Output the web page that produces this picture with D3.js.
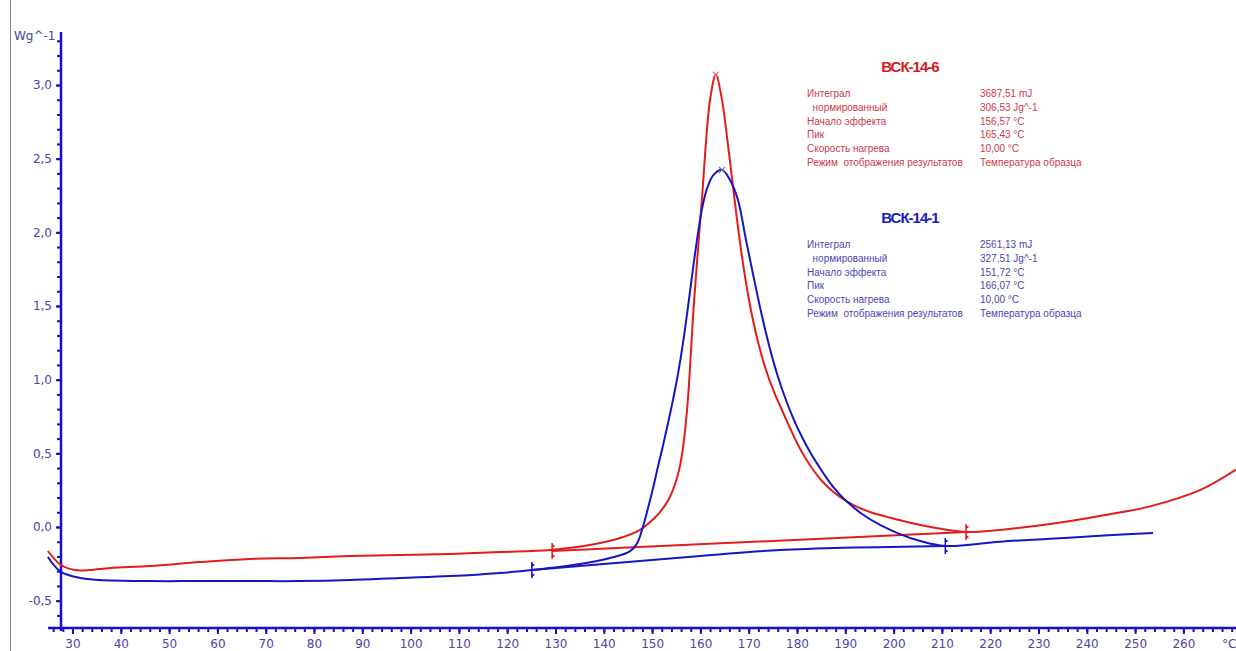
<!DOCTYPE html>
<html>
<head>
<meta charset="utf-8">
<script src="https://cdn.jsdelivr.net/npm/d3@7"></script>
<style>
  body { margin: 0; background: #fff; overflow: hidden; }
  svg { display: block; }
</style>
</head>
<body>
<div id="chart"></div>
<script>
// DSC curves, temperature in °C, signal in W/g
var redT = [24.9, 27.6, 30.5, 33.6, 37.8, 46.0, 56.4, 66.7, 77.1, 87.5, 97.8, 108.2, 118.5, 128.9, 137.1, 143.4, 147.5, 149.6, 151.6, 153.3, 154.7, 155.8, 156.6, 157.4, 158.7, 160.3, 162.0, 163.2,
    164.47, 165.71, 166.96, 168.41, 170.06, 171.93, 173.58, 175.24, 176.89, 178.55, 180.21, 181.86, 183.52, 185.18, 186.83, 188.9, 192.0, 195.1, 197.2, 205.5, 215.0, 222.0, 232.4, 242.7, 253.1, 263.4, 270.9];
var redV = [-0.163, -0.258, -0.292, -0.292, -0.278, -0.265, -0.238, -0.217, -0.21, -0.197, -0.19, -0.183, -0.17, -0.156, -0.122, -0.075, -0.02, 0.034, 0.10, 0.18, 0.285, 0.42, 0.59, 0.86, 1.54, 2.22, 2.90, 3.07,
    2.899, 2.593, 2.254, 1.880, 1.541, 1.256, 1.066, 0.917, 0.794, 0.672, 0.557, 0.462, 0.380, 0.312, 0.258, 0.204, 0.143, 0.102, 0.081, 0.014, -0.034, -0.02, 0.02, 0.075, 0.14, 0.25, 0.39];

var blueT = [24.9, 27.6, 31.6, 35.7, 46.0, 56.4, 66.7, 77.1, 87.5, 97.8, 108.2, 118.5, 125.1, 135.1, 141.3, 145.4, 146.9, 148.1, 149.16, 150.2, 151.15, 152.19, 153.21, 154.24, 155.28, 156.31, 157.35, 158.38, 159.42, 160.45, 161.49, 162.73, 164.47,
    166.13, 167.78, 169.44, 171.1, 172.75, 174.41, 176.07, 177.72, 179.38, 181.04, 182.69, 184.35, 186.0, 187.66, 189.32, 191.39, 193.46, 197.18, 201.3, 205.5, 210.7, 222.0, 232.4, 242.7, 253.7];
var blueV = [-0.204, -0.305, -0.346, -0.36, -0.367, -0.367, -0.367, -0.367, -0.36, -0.346, -0.333, -0.312, -0.292, -0.251, -0.21, -0.165, -0.11, 0.0, 0.129, 0.265, 0.401, 0.543, 0.692, 0.849, 1.025, 1.229, 1.473, 1.731, 1.976, 2.179, 2.308, 2.39, 2.424,
    2.356, 2.22, 1.948, 1.684, 1.432, 1.208, 1.018, 0.862, 0.726, 0.611, 0.509, 0.421, 0.339, 0.265, 0.204, 0.143, 0.088, 0.014, -0.048, -0.095, -0.129, -0.10, -0.08, -0.06, -0.04];

// integration baselines
var redBaseT = [129.3, 215.0];
var redBaseV = [-0.163, -0.034];
var blueBaseT = [125.1, 160.0, 176.5, 210.7];
var blueBaseV = [-0.292, -0.197, -0.156, -0.129];

var redPeak = [163.2, 3.07];
var bluePeak = [164.47, 2.424];

var xMajor = d3.range(30, 261, 10);
var xMinor = d3.range(26, 271, 2);
var yMajor = [-0.5, 0, 0.5, 1.0, 1.5, 2.0, 2.5, 3.0];
var yMinor = d3.range(-6, 34, 1).map(function (d) { return d / 10; });

var redTitle = "ВСК-14-6";
var blueTitle = "ВСК-14-1";
var infoLabels = ["Интеграл", "  нормированный", "Начало эффекта", "Пик", "Скорость нагрева", "Режим  отображения результатов"];
var redValues = ["3687,51 mJ", "306,53 Jg^-1", "156,57 °C", "165,43 °C", "10,00 °C", "Температура образца"];
var blueValues = ["2561,13 mJ", "327,51 Jg^-1", "151,72 °C", "166,07 °C", "10,00 °C", "Температура образца"];

var width = 1236, height = 651;
var axisColor = "#1212cc", labelColor = "#4646a6";
var redColor = "#e31b1b", blueColor = "#1515c4";

var x = d3.scaleLinear().domain([30, 260]).range([72.5, 1183.4]);
var y = d3.scaleLinear().domain([0, 3]).range([527, 85]);

var svg = d3.select("#chart").append("svg")
    .attr("width", width)
    .attr("height", height);

// window border line on the left
svg.append("line")
    .attr("x1", 10.5).attr("x2", 10.5)
    .attr("y1", 0).attr("y2", height)
    .attr("stroke", "#8a8a8a").attr("stroke-width", 1);

var axisY0 = 628, axisX0 = 61;

// x axis
var xMinorAxis = d3.axisBottom(x).tickValues(xMinor).tickSize(4).tickFormat("");
var xMajorAxis = d3.axisBottom(x).tickValues(xMajor).tickSize(6).tickPadding(5)
    .tickFormat(function (d) { return d; });

var gxm = svg.append("g").attr("transform", "translate(0," + axisY0 + ")").call(xMinorAxis);
var gx = svg.append("g").attr("transform", "translate(0," + axisY0 + ")").call(xMajorAxis);
[gxm, gx].forEach(function (g) {
    g.select(".domain").remove();
    g.selectAll(".tick line").attr("stroke", axisColor).attr("stroke-width", 2);
});
gx.selectAll(".tick text")
    .attr("fill", labelColor)
    .style("font-family", "DejaVu Sans, Verdana, sans-serif")
    .style("font-size", "12px");

svg.append("line")
    .attr("x1", 48).attr("x2", width)
    .attr("y1", axisY0).attr("y2", axisY0)
    .attr("stroke", axisColor).attr("stroke-width", 2.5);

svg.append("text")
    .attr("x", 1222).attr("y", 648)
    .attr("fill", labelColor)
    .style("font-family", "DejaVu Sans, Verdana, sans-serif")
    .style("font-size", "12px")
    .text("°C");

// y axis
var yMinorAxis = d3.axisLeft(y).tickValues(yMinor).tickSize(4).tickFormat("");
var yMajorAxis = d3.axisLeft(y).tickValues(yMajor).tickSize(5).tickPadding(4)
    .tickFormat(function (d) { return d3.format(".1f")(d).replace(".", ",").replace("−", "-"); });

var gym = svg.append("g").attr("transform", "translate(" + axisX0 + ",0)").call(yMinorAxis);
var gy = svg.append("g").attr("transform", "translate(" + axisX0 + ",0)").call(yMajorAxis);
[gym, gy].forEach(function (g) {
    g.select(".domain").remove();
    g.selectAll(".tick line").attr("stroke", axisColor).attr("stroke-width", 2);
});
gy.selectAll(".tick text")
    .attr("fill", labelColor)
    .style("font-family", "DejaVu Sans, Verdana, sans-serif")
    .style("font-size", "12px");

svg.append("line")
    .attr("x1", axisX0).attr("x2", axisX0)
    .attr("y1", 32).attr("y2", 631)
    .attr("stroke", axisColor).attr("stroke-width", 2.5);

svg.append("text")
    .attr("x", 14).attr("y", 40)
    .attr("fill", labelColor)
    .style("font-family", "DejaVu Sans, Verdana, sans-serif")
    .style("font-size", "12px")
    .text("Wg^-1");

// curves
var line = d3.line()
    .x(function (d) { return x(d[0]); })
    .y(function (d) { return y(d[1]); })
    .curve(d3.curveCatmullRom.alpha(0.5));

function pairs(ts, vs) {
    return ts.map(function (t, i) { return [t, vs[i]]; });
}

var curves = [
    { pts: pairs(redBaseT, redBaseV), color: redColor },
    { pts: pairs(blueBaseT, blueBaseV), color: blueColor },
    { pts: pairs(redT, redV), color: redColor },
    { pts: pairs(blueT, blueV), color: blueColor }
];

svg.selectAll(".curve")
    .data(curves)
    .enter().append("path")
    .attr("class", "curve")
    .attr("d", function (d) { return line(d.pts); })
    .attr("fill", "none")
    .attr("stroke", function (d) { return d.color; })
    .attr("stroke-width", 2);

// integration limit markers
var limits = [
    { t: redBaseT[0], v: redBaseV[0], color: redColor },
    { t: redBaseT[1], v: redBaseV[1], color: redColor },
    { t: blueBaseT[0], v: blueBaseV[0], color: blueColor },
    { t: blueBaseT[blueBaseT.length - 1], v: blueBaseV[blueBaseV.length - 1], color: blueColor }
];

var lim = svg.selectAll(".limit")
    .data(limits)
    .enter().append("g")
    .attr("class", "limit")
    .attr("transform", function (d) { return "translate(" + x(d.t) + "," + y(d.v) + ")"; });

lim.append("line")
    .attr("y1", -8).attr("y2", 8)
    .attr("stroke", function (d) { return d.color; })
    .attr("stroke-width", 1.5);
lim.append("path")
    .attr("d", "M0,-7L3,-5L0,-3Z M0,3L3,5L0,7Z")
    .attr("fill", function (d) { return d.color; });

// peak markers
var peaks = [
    { p: redPeak, color: "#e86a6a" },
    { p: bluePeak, color: "#5a7ab0" }
];
svg.selectAll(".peak")
    .data(peaks)
    .enter().append("path")
    .attr("class", "peak")
    .attr("transform", function (d) { return "translate(" + x(d.p[0]) + "," + y(d.p[1]) + ")"; })
    .attr("d", "M-3,-3L3,3M-3,3L3,-3")
    .attr("stroke", function (d) { return d.color; })
    .attr("stroke-width", 1.2);

// result tables
function table(title, values, top, titleColor, textColor) {
    var g = svg.append("g").attr("transform", "translate(0," + top + ")");
    g.append("text")
        .attr("x", 910).attr("y", 0)
        .attr("text-anchor", "middle")
        .attr("fill", titleColor)
        .style("font-family", "Liberation Sans, Arial, sans-serif")
        .style("font-weight", "bold")
        .style("font-size", "15px")
        .style("letter-spacing", "-1px")
        .text(title);
    g.selectAll(".lbl")
        .data(infoLabels)
        .enter().append("text")
        .attr("x", 807)
        .attr("y", function (d, i) { return 25 + i * 13.8; })
        .attr("fill", textColor)
        .style("font-family", "Liberation Sans, Arial, sans-serif")
        .style("font-size", "10px")
        .style("white-space", "pre")
        .text(function (d) { return d; });
    g.selectAll(".val")
        .data(values)
        .enter().append("text")
        .attr("x", 980)
        .attr("y", function (d, i) { return 25 + i * 13.8; })
        .attr("fill", textColor)
        .style("font-family", "Liberation Sans, Arial, sans-serif")
        .style("font-size", "10px")
        .text(function (d) { return d; });
}

table(redTitle, redValues, 72, "#d41a1a", "#cc3a48");
table(blueTitle, blueValues, 223, "#1a1ac8", "#4848b4");
</script>
</body>
</html>
